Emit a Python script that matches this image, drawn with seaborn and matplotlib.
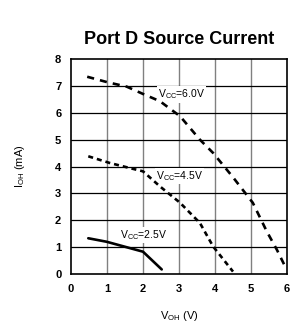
import matplotlib
matplotlib.use("Agg")
import matplotlib.pyplot as plt
import seaborn as sns
import pandas as pd

# Data
v6_x = [0.45, 1.0, 1.55, 2.0, 2.47, 3.03, 3.58, 3.95, 4.5, 5.05, 5.44, 5.72, 5.97]
v6_y = [7.34, 7.14, 6.97, 6.70, 6.43, 5.87, 5.00, 4.50, 3.60, 2.65, 1.58, 0.90, 0.22]
v45_x = [0.48, 1.08, 1.73, 2.0, 2.47, 3.03, 3.58, 3.95, 4.5]
v45_y = [4.38, 4.13, 3.91, 3.82, 3.26, 2.65, 1.90, 1.02, 0.09]
v25_x = [0.48, 0.99, 2.0, 2.52]
v25_y = [1.33, 1.20, 0.83, 0.17]

labels = [r"$\mathregular{V_{CC}}$=6.0V", r"$\mathregular{V_{CC}}$=4.5V", r"$\mathregular{V_{CC}}$=2.5V"]
label_pos = [(2.42, 6.68), (2.36, 3.63), (1.36, 1.46)]
x_ticks = [0, 1, 2, 3, 4, 5, 6]
y_ticks = [0, 1, 2, 3, 4, 5, 6, 7, 8]

df = pd.concat([
    pd.DataFrame({"x": v6_x, "y": v6_y, "vcc": "6.0"}),
    pd.DataFrame({"x": v45_x, "y": v45_y, "vcc": "4.5"}),
    pd.DataFrame({"x": v25_x, "y": v25_y, "vcc": "2.5"}),
])

sns.set_style("white")
plt.rcParams['font.family'] = ['Liberation Sans', 'DejaVu Sans']
plt.rcParams['mathtext.fontset'] = 'custom'
plt.rcParams['mathtext.rm'] = 'Liberation Sans'
plt.rcParams['text.color'] = 'black'
plt.rcParams['axes.labelcolor'] = 'black'
plt.rcParams['xtick.color'] = 'black'
plt.rcParams['ytick.color'] = 'black'

fig = plt.figure(figsize=(2.9, 3.32), dpi=100)
ax = fig.add_axes([71/290, 1 - 274/332, 216/290, 215/332])

for x in x_ticks[1:-1]:
    ax.axvline(x, color="#808080", lw=1.0, zorder=1)
for y in y_ticks[1:-1]:
    ax.axhline(y, color="black", lw=0.9, zorder=1)

sns.lineplot(data=df, x="x", y="y", hue="vcc", style="vcc",
             palette={"6.0": "black", "4.5": "black", "2.5": "black"},
             dashes={"6.0": (2.7, 2.3), "4.5": (1.9, 1.5), "2.5": ""},
             lw=1.9, sort=False, legend=False, ax=ax, zorder=3)

for t, (px, py) in zip(labels, label_pos):
    ax.text(px, py, t, fontsize=7.5, ha="left", va="center", zorder=2,
            bbox=dict(facecolor="white", edgecolor="none", pad=0.8))

ax.set_xlim(0, 6)
ax.set_ylim(0, 8)
ax.set_xticks(x_ticks)
ax.set_yticks(y_ticks)
ax.tick_params(length=0, labelsize=8, pad=7)
for lab in ax.get_xticklabels() + ax.get_yticklabels():
    lab.set_fontweight("bold")
for s in ax.spines.values():
    s.set_color("black")
    s.set_linewidth(1.2)

ax.set_xlabel(r"$\mathregular{V_{OH}}$ (V)", fontsize=8, labelpad=11)
ax.set_ylabel(r"$\mathregular{I_{OH}}$ (mA)", fontsize=8, labelpad=20)
ax.set_title("Port D Source Current", fontsize=13, fontweight="bold", pad=11, color="black")

fig.savefig("out.png", dpi=100)
